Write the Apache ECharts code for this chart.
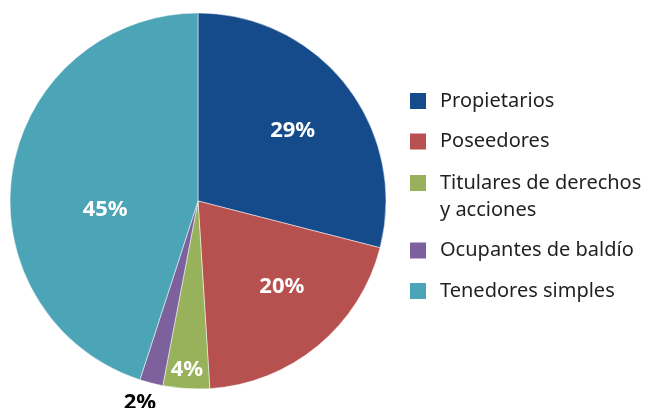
<!DOCTYPE html>
<html>
<head>
<meta charset="utf-8">
<script src="https://cdn.jsdelivr.net/npm/echarts@6/dist/echarts.min.js"></script>
<style>
html,body{margin:0;padding:0;background:#fff;}
#chart{width:647px;height:408px;}
</style>
</head>
<body>
<div id="chart"></div>
<script>
var categories = ['Propietarios', 'Poseedores', 'Titulares de derechos\ny acciones', 'Ocupantes de baldío', 'Tenedores simples'];
var values = [29, 20, 4, 2, 45];
var colors = ['#164b8b', '#b7514f', '#98b25c', '#7c619c', '#4ca4b7'];
var labelColors = ['#fff', '#fff', '#fff', '#000', '#fff'];
// label nudges from the default inside position [dx, dy]
var labelNudges = [[18, -11], [22, 11], [-5, 72], [-34, 108], [3, 24]];

var data = categories.map(function (c, i) {
  return {
    name: c,
    value: values[i],
    itemStyle: { color: colors[i] },
    label: { color: labelColors[i] }
  };
});

var legendText = {
  fontFamily: 'Noto Sans',
  fontSize: 20,
  lineHeight: 27,
  color: '#231f20',
  padding: [0, 0, 0, 9],
  backgroundColor: 'rgba(0,0,0,0)'
};

var chart = echarts.init(document.getElementById('chart'), null, { renderer: 'canvas' });
chart.setOption({
  animation: false,
  legend: [
    {
      orient: 'vertical', left: 410, top: 87.5, padding: 0,
      itemWidth: 16, itemHeight: 16, itemGap: 13.5, icon: 'rect',
      selectedMode: false,
      itemStyle: { borderWidth: 0 },
      textStyle: legendText,
      data: [categories[0], categories[1]]
    },
    {
      orient: 'vertical', left: 410, top: 142.5, padding: 0,
      itemWidth: 16, itemHeight: 16, itemGap: 13.5, icon: 'rect',
      selectedMode: false,
      itemStyle: { borderWidth: 0 },
      textStyle: legendText,
      formatter: function (name) {
        // blank leading line keeps the first text line level with the swatch
        return name.indexOf('\n') >= 0 ? ' \n' + name : name;
      },
      data: [categories[2], categories[3], categories[4]]
    }
  ],
  series: [{
    type: 'pie',
    center: [198, 201],
    radius: [0, 188],
    startAngle: 90,
    clockwise: true,
    avoidLabelOverlap: false,
    emphasis: { disabled: true },
    itemStyle: { borderColor: '#ffffff', borderWidth: 0.5 },
    label: {
      show: true,
      position: 'inside',
      formatter: '{c}%',
      fontFamily: 'Noto Sans',
      fontWeight: 'bold',
      fontSize: 22
    },
    labelLayout: function (p) {
      var n = labelNudges[p.dataIndex];
      return { dx: n[0], dy: n[1] };
    },
    labelLine: { show: false },
    data: data
  }]
});
</script>
</body>
</html>
